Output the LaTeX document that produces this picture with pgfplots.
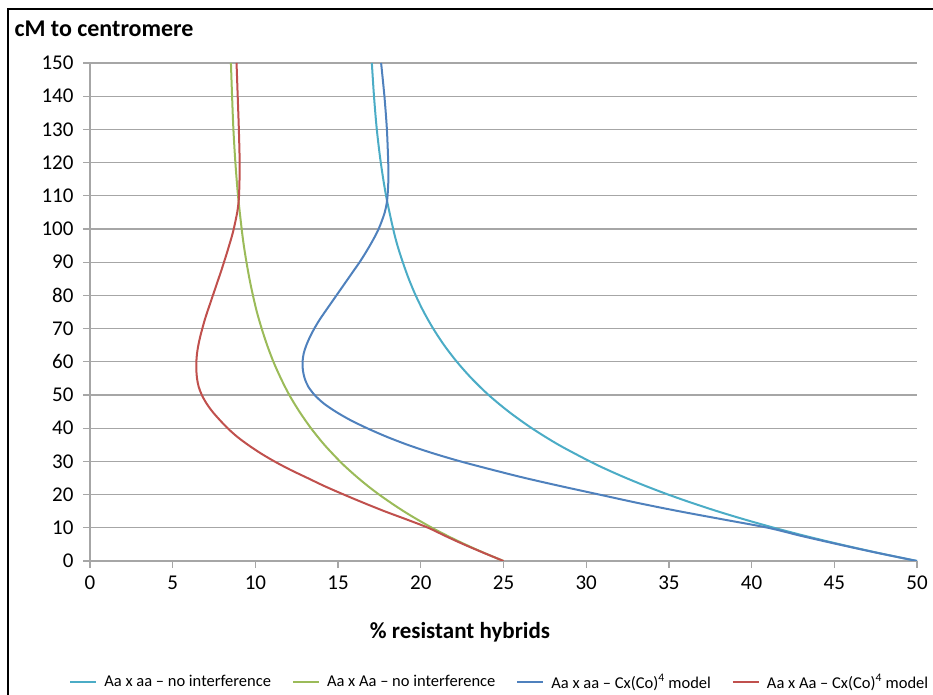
\documentclass[border=0pt]{standalone}
\usepackage{fontspec}
\setmainfont{Carlito}
\usepackage{pgfplots}
\usepackage{pgfplotstable}
\pgfplotsset{compat=1.18}
\definecolor{cCyan}{HTML}{4BACC6}
\definecolor{cGreen}{HTML}{9BBB59}
\definecolor{cBlue}{HTML}{4F81BD}
\definecolor{cRed}{HTML}{C0504D}
\definecolor{gridc}{HTML}{A6A6A6}

\pgfplotstableread{
cm pct
0 50
2.5 47.59
5 45.36
7.5 43.28
10 41.36
12.5 39.58
15 37.92
17.5 36.39
20 34.96
22.5 33.64
25 32.41
27.5 31.27
30 30.22
35 28.33
40 26.71
45 25.31
50 24.10
55 23.07
60 22.18
65 21.41
70 20.75
75 20.18
80 19.69
85 19.27
90 18.91
95 18.59
100 18.33
110 17.90
120 17.58
130 17.34
140 17.17
150 17.04
}\cyandata

\pgfplotstableread{
cm pct
0 25
2.5 23.80
5 22.68
7.5 21.64
10 20.68
12.5 19.79
15 18.96
17.5 18.20
20 17.48
22.5 16.82
25 16.21
27.5 15.64
30 15.11
35 14.17
40 13.36
45 12.66
50 12.05
55 11.54
60 11.09
65 10.71
70 10.38
75 10.09
80 9.85
85 9.64
90 9.46
95 9.30
100 9.17
110 8.95
120 8.79
130 8.67
140 8.59
150 8.52
}\greendata

\pgfplotstableread{
cm pct
0 50
2.5 47.55
5 45.25
7.5 43.05
10 41.0
12.5 38.3
15 35.6
17.5 33.1
20 30.8
22.5 28.5
25 26.3
27.5 24.3
30 22.4
32.5 20.7
35 19.2
37.5 17.9
40 16.75
42.5 15.72
45 14.85
47.5 14.12
50 13.58
52.5 13.2
55 12.98
57.5 12.87
60 12.85
62.5 12.92
65 13.08
67.5 13.3
70 13.56
72.5 13.86
75 14.2
77.5 14.55
80 14.9
82.5 15.25
85 15.6
87.5 15.95
90 16.3
92.5 16.62
95 16.92
97.5 17.2
100 17.45
102.5 17.65
105 17.82
107.5 17.93
110 17.99
115 18.04
120 18.03
130 17.95
140 17.8
150 17.6
}\bluedata

\pgfplotstableread{
cm pct
0 25
2.5 23.78
5 22.6
7.5 21.5
10 20.45
12.5 19.15
15 17.8
17.5 16.55
20 15.35
22.5 14.2
25 13.15
27.5 12.1
30 11.15
32.5 10.3
35 9.55
37.5 8.88
40 8.32
42.5 7.84
45 7.4
47.5 7.04
50 6.76
52.5 6.57
55 6.47
57.5 6.43
60 6.43
62.5 6.47
65 6.55
67.5 6.66
70 6.79
72.5 6.93
75 7.09
77.5 7.26
80 7.43
82.5 7.6
85 7.77
87.5 7.94
90 8.1
92.5 8.26
95 8.41
97.5 8.56
100 8.69
102.5 8.8
105 8.9
107.5 8.97
110 9.01
115 9.04
120 9.05
130 9.0
140 8.93
150 8.86
}\reddata

\begin{document}
\begin{tikzpicture}[x=1pt,y=1pt]
\draw[line width=2pt] (8,0) -- (8,686) -- (933,686);
\node[anchor=west, font=\fontsize{24}{24}\selectfont\bfseries] at (11,666) {cM to centromere};
\node[font=\fontsize{23}{23}\selectfont\bfseries] at (460,63) {\% resistant hybrids};
\begin{axis}[
  at={(90pt,134pt)}, anchor=south west,
  scale only axis, width=827pt, height=498pt,
  xmin=0, xmax=50, ymin=0, ymax=150,
  xtick={0,5,...,50}, ytick={0,10,...,150},
  ymajorgrids,
  grid style={gridc, line width=1.3pt},
  axis x line*=bottom, axis y line*=left,
  axis line style={gridc, line width=1.3pt, -},
  tick style={gridc, line width=1.3pt},
  tick align=outside, major tick length=7pt,
  ticklabel style={font=\fontsize{21}{21}\selectfont, text=black},
  /pgf/number format/assume math mode=true,
  xticklabel style={yshift=-4pt},
  yticklabel style={xshift=-6pt},
  legend style={at={(0.4955,-0.243)}, anchor=center, draw=none,
    font=\fontsize{16.5}{16.5}\selectfont,
    /tikz/every even column/.append style={column sep=19pt},
    /tikz/every odd column/.append style={column sep=5pt}},
  legend columns=4,
  legend image code/.code={\draw[#1, line width=2pt] (0pt,0pt) -- (26pt,0pt);},
  every axis plot/.append style={line width=2pt, smooth, no marks},
]
\addplot[cCyan] table[x=pct,y=cm] {\cyandata};
\addplot[cGreen] table[x=pct,y=cm] {\greendata};
\addplot[cBlue] table[x=pct,y=cm] {\bluedata};
\addplot[cRed] table[x=pct,y=cm] {\reddata};
\legend{Aa x aa -- no interference, Aa x Aa -- no interference, Aa x aa -- Cx(Co)\textsuperscript{4} model, Aa x Aa -- Cx(Co)\textsuperscript{4} model}
\end{axis}
\pgfresetboundingbox
\path (0,0) rectangle (933,695);
\end{tikzpicture}
\end{document}
